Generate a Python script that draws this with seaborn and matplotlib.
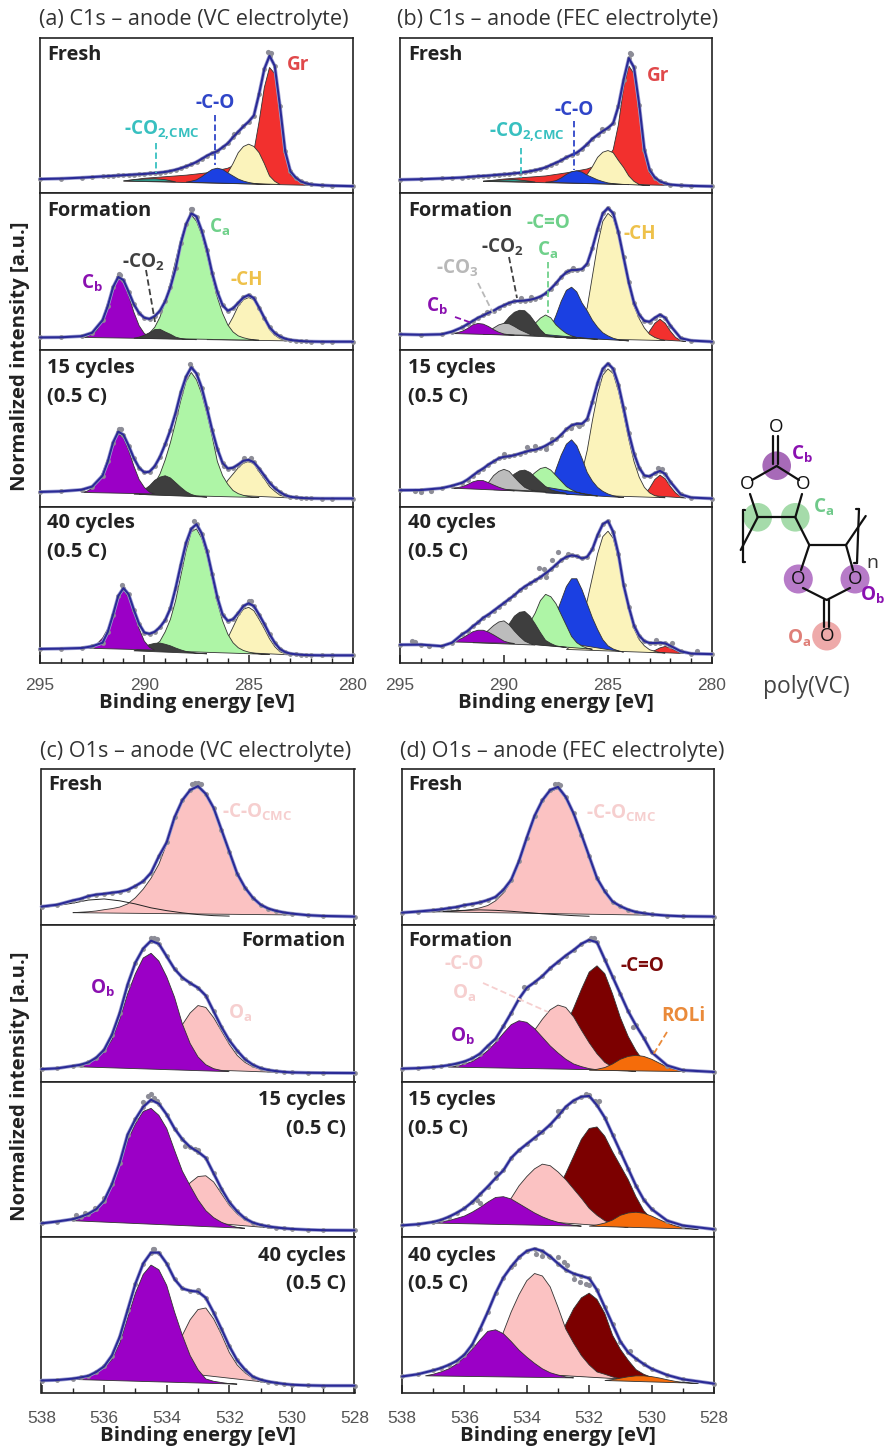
import numpy as np
import matplotlib
matplotlib.use("Agg")
import matplotlib.pyplot as plt
from matplotlib.patches import Circle
from matplotlib.ticker import MultipleLocator
import seaborn as sns

sns.set_theme(style="ticks")
plt.rcParams["font.family"] = ["Open Sans", "DejaVu Sans"]
plt.rcParams["mathtext.default"] = "regular"

# ---------------------------------------------------
# DATA (binding energy in eV, intensity in % of panel height)
# peaks are (first energy, step, values) or (energies, None, values)
# ---------------------------------------------------

X_C = [295, 294, 293, 292.5, 292, 291.75, 291.5, 291.25, 291, 290.75, 290.5, 290.25, 290, 289.75, 289.5, 289.25,
       289, 288.75, 288.5, 288.25, 288, 287.75, 287.5, 287.25, 287, 286.75, 286.5, 286.25, 286, 285.75, 285.5, 285.25,
       285, 284.75, 284.5, 284.25, 284, 283.75, 283.5, 283.25, 283, 282.75, 282.5, 282.25, 282, 281.5, 281, 280]
X_O = [538, 537.5, 537, 536.75, 536.5, 536.25, 536, 535.75, 535.5, 535.25, 535, 534.75, 534.5, 534.25, 534, 533.75,
       533.5, 533.25, 533, 532.75, 532.5, 532.25, 532, 531.75, 531.5, 531.25, 531, 530.75, 530.5, 530.25, 530,
       529.5, 529, 528]
GR_X = [291, 290, 289, 288, 287, 286, 285.5, 285, 284.75, 284.5, 284.25, 284, 283.75, 283.5, 283.25, 283, 282.75,
        282.5, 282, 281.5, 281]

# (a) C1s VC
a0_env = [9, 9.3, 9.9, 10.3, 10.7, 10.9, 11.1, 11.3, 11.5, 11.7, 11.9, 12.1, 12.3, 12.6, 12.9, 13.2, 13.6, 14.2, 15, 16,
          17.2, 18.5, 20, 22, 24, 25.7, 27, 29.5, 32, 36, 39.5, 43, 46, 50, 64, 80, 88.5, 82, 56, 27, 14, 10, 7.5, 6.2,
          5.5, 5, 4.7, 4.4]
a0_raw = ([284.05, 283.95, 285.7], [91, 90.5, 38])
a0_gr = (GR_X, None, [7.7, 9.5, 10.5, 11.5, 13, 16, 19, 20, 27, 46, 68, 81, 77, 54, 26, 12, 9, 7, 5.5, 4.9, 4.6])
a0_ch = (287, 0.25, [7, 7.6, 8.5, 10.5, 13, 19, 26, 30, 31.5, 30, 26, 19, 11, 7.5, 5.5])
a0_co = (288, 0.25, [7, 7.6, 8.5, 10.5, 13, 15.2, 16, 15.2, 13, 11, 9, 7.7, 6.8, 6.2, 5.7, 5.5, 5.5])
a0_cmc = (291, 0.5, [7.8, 8.6, 9, 9.2, 8.6, 7.2])

a1_env = [8, 8.1, 8.8, 11, 19, 28, 40, 46.5, 44.5, 37, 29, 23.5, 20.5, 19.8, 21.5, 25, 31, 40, 52, 68, 80, 87, 85, 76, 64,
          49, 37, 28.5, 25, 26.5, 30, 33.5, 35, 33, 27, 20.5, 14.5, 10.8, 8.6, 7.2, 6.4, 6, 5.7, 5.5, 5.4, 5.3, 5.3, 5.3]
a1_raw = ([287.75, 287.7, 291.2, 291.15], [90, 89.5, 48.5, 48])
a1_ch = (287, 0.25, [6.6, 7, 8, 10.5, 15, 21, 28, 32, 33.4, 32, 26, 19.5, 13, 9.5, 7.2, 6.3, 5.9, 5.8, 5.7])
a1_ca = (290.25, 0.25, [7.6, 8.8, 10.8, 14.5, 21, 31, 43, 57, 71, 81, 86, 82, 73.4, 60.6, 46.4, 33.5, 23.4, 16, 11.5, 9,
                        7.8, 7, 6.5, 6.2])
a1_co2 = (290.5, 0.25, [7.5, 8.2, 9.4, 11, 13, 13.2, 11.5, 10, 8.2, 7.3, 6.8, 6.7, 6.6])
a1_cb = (293, 0.25, [8, 8.6, 10, 13, 20, 30.5, 40.5, 45.5, 43.5, 34.7, 24, 15.5, 10.5, 8.5, 7.3])

a2_env = [9.6, 10, 11, 13, 20, 29, 41, 48, 46, 39, 31, 25, 22, 22.5, 26, 32, 40, 49, 60, 73, 83, 89, 85, 76, 63, 49, 37,
          28, 24.5, 25, 27, 29.5, 30, 28.5, 24.5, 20, 15.5, 12, 9.5, 7.5, 6.5, 6.1, 5.8, 5.6, 5.5, 5.4, 5.4, 5.4]
a2_raw = ([287.8, 291.2, 291.1, 285.2, 284.9, 286.2], [91, 50, 50, 31.5, 31, 26])
a2_ch = (286.5, 0.25, [8, 12, 17, 21, 25, 28, 29, 27.5, 22.5, 18, 13, 10, 7.5, 6.5, 5.8, 5.6])
a2_ca = (290.25, 0.25, [8, 9.3, 11.5, 15, 21, 30, 41, 54, 68, 80, 85.7, 81, 72, 59.5, 45, 29, 20, 14.5, 10.5, 8.5, 7.4,
                        6.7, 6.3, 6])
a2_co2 = (290.5, 0.25, [8.2, 9.3, 11, 13.5, 17, 19, 19.9, 18.5, 15.5, 12.5, 9.8, 8, 7, 6.6, 6.3])
a2_cb = (293, 0.25, [9.3, 10, 12, 15.5, 22, 31, 41, 46.5, 44, 36, 26, 17.5, 12.5, 9.5, 8.3])

a3_env = [9, 9.2, 9.6, 10.7, 13, 20, 31, 43, 48, 44, 34, 25, 19.5, 18.7, 20, 23, 27.5, 35, 48, 63, 77, 86, 89, 83, 72, 57,
          42, 31, 27, 28, 32, 36.5, 38.3, 36.5, 31, 25, 18.5, 13, 9, 7, 6, 5.6, 5.3, 5.1, 5, 4.9, 4.9, 4.9]
a3_raw = ([287.6, 291.05, 285, 284.9], [91, 50, 40, 39.5])
a3_ch = (286.5, 0.25, [7.5, 11, 16, 23, 30, 34.5, 35.7, 33.5, 28, 22, 15.5, 10.5, 7.2, 6, 5.2])
a3_ca = (290, 0.25, [8.2, 9.5, 11.3, 14, 20, 28, 40, 56, 72, 84, 86, 80, 69, 54, 39, 27, 18.5, 13, 9.8, 8, 7, 6.3, 5.9,
                     5.6, 5.5])
a3_co2 = (290.5, 0.25, [7.8, 9, 10.5, 11.8, 12.6, 12.8, 12, 11, 9.6, 8.4, 7.4, 6.8, 6.4, 6.1, 5.9])
a3_cb = (292.75, 0.25, [9.5, 10.5, 12.5, 16, 22, 31, 42, 46.8, 42, 32, 22, 14, 10, 8.3])

# (b) C1s FEC
b0_env = [8.6, 8.9, 9.4, 9.7, 10, 10.3, 10.6, 10.8, 11, 11.2, 11.5, 11.8, 12, 12.3, 12.7, 13, 13.5, 14, 14.7, 15.5, 16.5,
          18, 19.5, 21, 23, 24.5, 26, 28.5, 31.5, 35, 37.5, 40, 42, 45, 56, 73, 87, 81, 57, 28, 15, 10, 7.5, 6.2, 5.4,
          4.9, 4.6, 4.3]
b0_raw = ([283.95, 283.9, 285.3], [90.5, 90, 41.5])
b0_gr = (GR_X, None, [7.5, 9, 10, 11, 13, 15.5, 18, 23, 28, 44, 68, 82, 77, 54, 25, 13, 9, 7, 5.3, 4.8, 4.6])
b0_ch = (287, 0.25, [7, 7.6, 8.5, 10, 12, 17, 23, 26.3, 27.4, 26, 21, 16.5, 11, 7.5, 5.5, 5, 4.9])
b0_co = (288, 0.25, [6.9, 7.3, 8, 9.7, 12, 13.7, 14.3, 13.5, 11.5, 10, 8.5, 7.4, 6.5, 6, 5.7, 5.5, 5.4])
b0_cmc = (291, 0.5, [7.6, 8, 8.4, 8.7, 8, 7.1])

b1_env = [10, 9.7, 10, 11.7, 14.5, 16.5, 18.5, 20.5, 22, 23.7, 25, 27, 28.5, 30, 31, 31.3, 31.5, 32, 32.8, 34, 36, 39,
          42.5, 46.5, 49.5, 51, 51, 51.5, 55, 65, 77, 87, 90.5, 87, 75, 59, 43, 30, 22.5, 18.5, 18, 20.5, 22.5, 20.5,
          15.5, 7.5, 6, 5.3]
b1_raw = ([289.2, 288.7, 286.9, 286.7, 290.8], [33, 33.5, 50.5, 52.5, 24])
b1_gr = (283.25, 0.25, [7, 12, 17, 19.6, 17, 12, 8, 6, 5.5])
b1_ch = (287, 0.25, [7.5, 9, 12, 18, 27, 47, 67, 82, 87, 84, 73, 57, 41, 28, 20, 14, 10, 8, 6.8, 6])
b1_co = (288, 0.25, [9, 14, 22, 31, 38, 40, 37, 30, 25, 19, 14.5, 11, 9, 7.5, 6.6, 6.1, 5.8])
b1_ca = (289, 0.25, [11, 14, 17, 20.3, 22.3, 20.5, 16, 13, 10.5, 9, 8, 7.5, 7.2, 7, 6.8])
b1_co2 = (290.5, 0.25, [10, 13, 17, 21, 24, 25.3, 25, 22, 17.5, 13, 9.8, 8.8, 8.3, 8.1, 8, 7.7, 7.5])
b1_co3 = (291, 0.25, [10, 11.5, 14, 16, 17, 16.7, 15, 13, 11.5, 10, 9.3])
b1_cb = (292.5, 0.25, [10.5, 11, 12, 13.7, 16, 16.9, 16.5, 15, 13, 11.3, 10.2, 9.7, 9.4])

b2_env = [10.7, 10.8, 12, 13.5, 15.5, 17.5, 20, 22.5, 24.5, 27, 29, 31, 32, 32.3, 33, 34, 35, 36, 36.5, 37.5, 39, 41, 43,
          46, 49.5, 52, 53, 53, 56, 67, 79, 88, 91.4, 88, 78, 63, 47, 34, 25, 20, 19.5, 21.5, 23, 21, 16, 8, 6, 5.4]
b2_raw = ([294.3, 294, 293.5, 288.9, 288.5, 288, 287.7, 286.8, 286.4, 282.6, 282.4, 290],
          [10, 9.5, 10.5, 38, 39, 37, 43.5, 50.5, 51.5, 25, 24.5, 34])
b2_gr = (283.25, 0.25, [7.5, 12, 17.5, 20.3, 18, 13, 9, 6.5, 5.7])
b2_ch = (287, 0.25, [8, 10, 14, 22, 36, 55, 72, 84, 88, 85, 74, 59, 43, 29, 19, 12.5, 9, 7.2, 6.4, 5.9])
b2_co = (288, 0.25, [9, 14, 24, 33, 40, 42.8, 39, 31, 22, 16.5, 12.5, 10, 8.3, 7.2, 6.5, 6])
b2_ca = (289, 0.25, [15, 19, 22, 24.5, 25.3, 23.5, 20, 16.5, 13, 11, 9.5, 8.5, 7.8, 7.4, 7])
b2_co2 = (290.5, 0.25, [11, 12.7, 15, 18, 21, 23, 23.5, 22, 19, 16, 13, 11, 10, 9.2, 8.7])
b2_co3 = (291, 0.25, [12, 15.5, 20, 22.7, 24, 22.7, 19, 15.5, 12.5, 11, 10.3, 10, 9.7])
b2_cb = (292.5, 0.25, [12, 12.3, 13, 14.3, 16, 16.9, 16.8, 15.5, 14, 12.6, 11.5, 10.8, 10.3])

b3_env = [11.7, 11.8, 10.8, 13, 18.5, 20.5, 23.5, 26, 29, 31, 33.5, 36, 38.5, 41, 43.5, 46.5, 49, 51, 53, 55, 57.5, 60, 63,
          66, 68, 69, 68.5, 67, 68, 73, 82, 89, 91, 84, 70, 50, 36, 24, 17.5, 14, 12.8, 12.8, 13, 12.6, 11, 7.5, 6, 5.7]
b3_raw = ([294.4, 294.3, 293.6, 287.4, 287.7, 288.1, 288.3, 288, 286.9, 282.7, 281.9, 280.7],
          [14, 13.5, 11, 71, 66, 60, 61, 55, 70, 14.5, 12.5, 7.5])
b3_gr = (283, 0.25, [7, 8, 9.7, 10.6, 9.6, 8, 6.5, 6])
b3_ch = (287, 0.25, [8.7, 11, 16, 27, 40, 55, 70, 81, 84.5, 80, 67, 50, 34, 22, 15, 11, 8.5, 7.5, 6.8, 6.4])
b3_co = (288, 0.25, [15, 20, 31, 40, 49, 54, 54, 47, 38, 29, 21.5, 15, 11, 9, 7.8, 7])
b3_ca = (289.5, 0.25, [13, 17.5, 22, 26, 32, 40, 44, 42.5, 38, 31, 24, 17, 13, 10.8, 9.5, 8.8])
b3_co2 = (290.5, 0.25, [14, 16.5, 20, 25, 30, 32.5, 33, 30, 25, 19.5, 14.5, 12.5, 11, 10.4, 10])
b3_co3 = (291.5, 0.25, [13, 15, 18, 21, 24, 26.3, 27, 24.5, 20.5, 17, 14, 12.5, 11.5])
b3_cb = (292.5, 0.25, [13.5, 14.5, 16, 18, 20, 21, 21, 19.8, 18, 16, 14, 13, 12.5])

# (c) O1s VC
c0_env = [11.8, 13, 15.7, 16.8, 18.5, 19.5, 20, 20.7, 21.3, 22.5, 25, 28, 33.5, 44, 53, 69, 80, 86.5, 89, 84, 75, 61, 47,
          33, 24, 17.5, 13, 10.5, 9, 8, 7.3, 6.3, 5.8, 5.4]
c0_raw = ([533.2, 533.1, 533, 532.9], [90.5, 91, 91, 90.5])
c0_co = (537, 0.25, [7.9, 8.2, 8.5, 9, 9.8, 10.5, 11.5, 13.5, 17.5, 23, 30, 39, 52, 67, 79, 86, 88.5, 84, 74, 60, 46, 33,
                     23.5, 17, 12.5, 10, 8.5, 7.6, 7, 6.4])
c0_other = (538, 0.5, [11, 12.5, 14, 16, 16.7, 15.5, 13.5, 11, 9.2, 7.8, 6.7, 6, 5.7])

c1_env = [8.2, 8.7, 10.2, 11, 12.5, 15.5, 20.5, 30, 44, 62, 76, 85, 90, 88, 80, 72, 66.5, 63, 60, 55, 45, 35, 26.5, 20,
          14.5, 11, 8.8, 7.6, 6.9, 6.4, 6.1, 5.9, 5.8, 5.7]
c1_raw = ([534.5, 534.4, 534.3], [91.5, 91.5, 91])
c1_oa = (534.5, 0.25, [9, 13, 20, 28, 36.5, 44, 48.7, 47.5, 41, 32.5, 24, 17, 12.5, 9.7, 8, 7, 6.4, 6])
c1_ob = (537, 0.25, [9.8, 11, 12.5, 15, 19, 27, 40, 56, 69, 79, 82, 77, 67, 54, 37, 24.5, 16, 11, 8.5, 7.3, 6.6])

c2_env = [8.8, 10, 11.5, 13, 15, 18, 23.5, 34, 48, 66, 76, 84, 88.5, 86, 79, 70, 63, 58, 55, 51, 41, 31, 22.5, 16.5, 12,
          9.3, 7.8, 6.8, 6.1, 5.6, 5.2, 4.7, 4.4, 4.3]
c2_raw = ([534.75, 534.6, 534.5, 534.4, 534.3, 533.4, 533.1, 533, 536.9, 536.6, 536.3, 536],
          [87, 91, 92, 90, 88, 59, 57, 56, 14, 15.5, 19, 25])
c2_oa = (534.25, 0.25, [12, 15.5, 22, 29, 35, 39, 39.5, 35.5, 28, 20.5, 15, 11, 8.5, 7, 6, 5.5])
c2_ob = (537, 0.25, [10.5, 12, 14, 17.5, 23, 33, 46.5, 62, 73, 81, 83, 78.5, 70, 56, 42.5, 33, 24, 17, 12.5, 9.5, 7.5,
                     6.2, 5.6])

c3_env = [8, 8.3, 9.2, 10, 11, 13.5, 17, 24, 36, 53, 70, 83, 90, 90, 83, 73, 67, 65.5, 65, 61, 51.5, 41, 30, 21, 15, 10.5,
          8.5, 7.3, 6.5, 5.8, 5.3, 4.9, 4.7, 4.7]
c3_raw = ([534.45, 534.4, 533], [92, 92, 66])
c3_oa = (534, 0.25, [14, 26, 37, 47, 53.5, 54.5, 47.5, 37.5, 26, 18, 13, 9.5, 7.7, 6.5, 5.8, 5.3, 5])
c3_ob = (537, 0.25, [8.7, 9.5, 10.7, 12.7, 16, 21.5, 32, 48, 64, 76, 82, 79, 69, 52, 37, 24, 15, 9, 7.5, 6.7, 6, 5.7])

# (d) O1s FEC
d0_env = [7.9, 8.6, 9.5, 10, 10.8, 11.5, 12.7, 13.5, 14.5, 16, 18, 22.5, 29, 41, 56, 70, 80, 86.5, 88.5, 82, 71.5, 58, 44,
          30, 21.5, 15, 12, 9.8, 8.3, 7.5, 6.8, 6, 5.6, 5.4]
d0_raw = ([533.1, 533, 532.95], [90.5, 90.5, 90])
d0_co = (537, 0.25, [8.5, 8.6, 8.8, 9, 9.3, 10, 11, 12.5, 15.5, 20.5, 28, 40, 55, 69, 79, 85.5, 87.5, 81, 71, 57, 43, 29.5,
                     21, 14.5, 11.5, 9.3, 8, 7.2, 6.6, 6.2])
d0_other = (538, 0.5, [7.7, 8, 8.5, 9, 9.4, 9.7, 9.4, 8.8, 8, 7.2, 6.6, 6, 5.6])

d1_env = [8.5, 8.8, 9.5, 10, 10.7, 11.7, 13, 15, 18, 23, 27.5, 35.5, 44, 53, 60, 63.5, 67.5, 72.5, 76.5, 80.5, 84, 88,
          90.5, 89, 78, 67, 56, 45, 36, 28, 19, 10.5, 7.5, 6.4]
d1_raw = ([531.95, 531.85, 534.1, 530.6], [91.5, 91.5, 60.5, 35])
d1_cdo = (533.5, 0.25, [12, 17, 25, 36, 47, 59, 70, 74, 69, 56, 41, 29, 20, 13, 10, 8.5, 7.6])
d1_oa = (534.5, 0.25, [10, 15, 25, 33, 40, 46, 49, 47.5, 41.5, 33, 25, 18, 12.5, 9.5, 8, 7.2, 6.8])
d1_ob = (536.5, 0.25, [9.5, 10, 11.3, 13, 16, 20, 25, 31, 36.5, 39, 38, 34, 28.5, 23, 18.5, 14.5, 11.5, 9.8, 8.5, 7.8])
d1_roli = (532, 0.25, [7.5, 8.1, 9.2, 11.5, 14.5, 16.3, 17, 16.3, 14.5, 12, 9.5, 8, 7, 6.7, 6.5])

d2_env = [7.5, 8.2, 9.7, 11, 13, 15.5, 18.5, 22.5, 27.5, 32.5, 38, 43, 51, 56, 60, 64, 68, 72.5, 78, 84, 88, 90.5, 91, 85,
          77, 66, 55, 44, 33, 24, 18, 10.5, 7.4, 5]
d2_raw = ([532.1, 532, 531.8, 531.7, 533, 532.9, 535.6, 535.5, 535, 533.6],
          [92, 91.5, 88, 88, 81, 81, 24, 22, 41, 68])
d2_cdo = (533.5, 0.25, [10, 20, 31, 41, 52, 63, 70, 71, 65, 55, 46, 37, 26, 17, 11.5, 8.5, 7])
d2_oa = (535, 0.25, [12, 18, 25, 33, 39, 44, 47, 46, 42, 37, 31, 25, 18.5, 14, 10.5, 8.5, 7, 6.2])
d2_ob = (537, 0.25, [9, 9.8, 10.6, 12, 13.5, 16, 19, 22.5, 25.5, 26, 24.5, 21.5, 18.5, 15.5, 13, 11, 9.5, 8.4, 7.6, 7])
d2_roli = (532, 0.25, [7, 7.8, 9, 11, 14, 15.5, 16, 15.3, 13.5, 11.2, 9, 7.3, 6, 5.4, 5])

d3_env = [10.6, 12, 14.5, 16, 18, 20.5, 24.5, 31, 41, 52, 64, 74, 81, 87, 91, 92.5, 91, 87.5, 83, 79, 76.5, 75, 73.5, 66,
          55, 44, 33, 26, 22, 18.5, 15.5, 11.5, 8.8, 6]
d3_raw = ([533.7, 533.5, 533.3, 533, 532.8, 532.7, 532.5, 532.3, 532.1, 532, 534.4, 530.7],
          [89, 88, 88, 87, 84, 82, 73, 71, 70, 69, 83, 27])
d3_cdo = (533.5, 0.25, [12, 22, 34, 44, 54, 61, 64, 60, 51, 37, 28, 21, 15, 12, 10, 8.5, 7.8])
d3_oa = (535.25, 0.25, [14, 26, 39, 52, 63, 72, 76.6, 75, 68, 55, 41, 32, 24, 18, 13.5, 12, 10.3, 9])
d3_ob = (537.25, 0.25, [11, 12, 13.5, 15.5, 18.5, 23, 28, 34, 39.5, 40.5, 38, 33, 27.5, 23, 19, 15.5, 13, 11.5, 10.3, 9.7])
d3_roli = (531.5, 0.25, [8, 8.6, 9.5, 10.4, 11, 11, 10.5, 9.6, 8.5, 7.5, 6.8, 6.4, 6.2])

# ---------------------------------------------------
# COLOURS
# ---------------------------------------------------

RED = "#f2302e"
CREAM = "#fbf3bb"
BLUE = "#1b40e2"
GREEN = "#aef5a6"
DARK = "#3e3e3e"
GREY = "#bcbcbc"
PURPLE = "#9b00c6"
PINK = "#fbc2c2"
MAROON = "#7c0000"
ORANGE = "#f56c0a"
TEAL = "#2d9f8f"

# peaks are listed back to front, None means outline only
columns = [
    (40, 353, [38, 193, 350, 507, 663], X_C, (295, 280), 5, 10.5, [
        (a0_env, a0_raw, [(a0_gr, RED), (a0_ch, CREAM), (a0_cmc, TEAL), (a0_co, BLUE)]),
        (a1_env, a1_raw, [(a1_ch, CREAM), (a1_ca, GREEN), (a1_cb, PURPLE), (a1_co2, DARK)]),
        (a2_env, a2_raw, [(a2_ch, CREAM), (a2_ca, GREEN), (a2_co2, DARK), (a2_cb, PURPLE)]),
        (a3_env, a3_raw, [(a3_ch, CREAM), (a3_ca, GREEN), (a3_co2, DARK), (a3_cb, PURPLE)]),
    ]),
    (400, 712, [38, 193, 350, 507, 663], X_C, (295, 280), 5, 10.5, [
        (b0_env, b0_raw, [(b0_gr, RED), (b0_ch, CREAM), (b0_cmc, TEAL), (b0_co, BLUE)]),
        (b1_env, b1_raw, [(b1_gr, RED), (b1_ch, CREAM), (b1_co, BLUE), (b1_ca, GREEN), (b1_co2, DARK), (b1_co3, GREY), (b1_cb, PURPLE)]),
        (b2_env, b2_raw, [(b2_gr, RED), (b2_ch, CREAM), (b2_co, BLUE), (b2_ca, GREEN), (b2_co2, DARK), (b2_co3, GREY), (b2_cb, PURPLE)]),
        (b3_env, b3_raw, [(b3_gr, RED), (b3_ch, CREAM), (b3_co, BLUE), (b3_ca, GREEN), (b3_co2, DARK), (b3_co3, GREY), (b3_cb, PURPLE)]),
    ]),
    (41.5, 354.5, [769, 925, 1082, 1237, 1393], X_O, (538, 528), 2, 13, [
        (c0_env, c0_raw, [(c0_co, PINK), (c0_other, None)]),
        (c1_env, c1_raw, [(c1_oa, PINK), (c1_ob, PURPLE)]),
        (c2_env, c2_raw, [(c2_oa, PINK), (c2_ob, PURPLE)]),
        (c3_env, c3_raw, [(c3_oa, PINK), (c3_ob, PURPLE)]),
    ]),
    (402, 714, [769, 925, 1082, 1237, 1393], X_O, (538, 528), 2, 13, [
        (d0_env, d0_raw, [(d0_co, PINK), (d0_other, None)]),
        (d1_env, d1_raw, [(d1_cdo, MAROON), (d1_oa, PINK), (d1_ob, PURPLE), (d1_roli, ORANGE)]),
        (d2_env, d2_raw, [(d2_cdo, MAROON), (d2_oa, PINK), (d2_ob, PURPLE), (d2_roli, ORANGE)]),
        (d3_env, d3_raw, [(d3_cdo, MAROON), (d3_oa, PINK), (d3_ob, PURPLE), (d3_roli, ORANGE)]),
    ]),
]

W, H = 887, 1449


def peak_xy(peak):
    start, step, ys = peak
    if step is None:
        return start, ys
    return start - step * np.arange(len(ys)), ys


# ---------------------------------------------------
# SPECTRA
# ---------------------------------------------------

fig = plt.figure(figsize=(W / 100, H / 100), dpi=100, facecolor="white")

for left, right, rows, x_grid, xlim, major, pad, panels in columns:
    for i, (env, raw, peaks) in enumerate(panels):
        top, bottom = rows[i], rows[i + 1]
        ax = fig.add_axes([left / W, 1 - bottom / H, (right - left) / W, (bottom - top) / H])

        for peak, color in peaks:
            xs, ys = peak_xy(peak)
            if color is None:
                ax.plot(xs, ys, color="#222222", lw=0.7, zorder=3)
            else:
                ax.fill(xs, ys, facecolor=color, edgecolor="#333333", lw=0.6, zorder=2)

        sns.lineplot(x=x_grid, y=env, ax=ax, color="#9da0d2", lw=2.6, sort=False, zorder=4, clip_on=False)
        sns.scatterplot(x=x_grid, y=env, ax=ax, color="#8d8d97", s=12, linewidth=0, zorder=4, clip_on=False)
        sns.scatterplot(x=raw[0], y=raw[1], ax=ax, color="#8d8d97", s=14, linewidth=0, zorder=4, clip_on=False)
        sns.lineplot(x=x_grid, y=env, ax=ax, color="#2a2a96", lw=1.5, sort=False, zorder=5, clip_on=False)

        ax.set_xlim(*xlim)
        ax.set_ylim(0, 100)
        ax.set_yticks([])
        ax.set_ylabel("")
        for spine in ax.spines.values():
            spine.set_visible(True)
            spine.set_color("#222222")
            spine.set_linewidth(1.2)

        if i == 3:
            ax.xaxis.set_major_locator(MultipleLocator(major))
            ax.xaxis.set_minor_locator(MultipleLocator(1))
            ax.tick_params(axis="x", which="major", direction="in", length=6, width=1.1, color="#222222",
                           pad=pad, labelsize=12.5, labelcolor="#555555")
            ax.tick_params(axis="x", which="minor", direction="in", length=3.5, width=1, color="#222222")
            for lab in ax.get_xticklabels():
                lab.set_fontfamily("Liberation Sans")
            ax.set_xlabel("Binding energy [eV]", fontsize=14.6, fontweight="bold", color="#222222", labelpad=0)
        else:
            ax.set_xticks([])
            ax.set_xlabel("")

# ---------------------------------------------------
# OVERLAY: TITLES, LABELS, STRUCTURE (pixel coordinates)
# ---------------------------------------------------

ov = fig.add_axes([0, 0, 1, 1], zorder=10)
ov.set_xlim(0, W)
ov.set_ylim(H, 0)
ov.axis("off")


def txt(x, y, s, color="#222222", size=14.4, weight="bold", ha="center", **kw):
    ov.text(x, y, s, color=color, fontsize=size, fontweight=weight, ha=ha, va="center", **kw)


def note(x, y, s, color):
    txt(x, y, s, color, 13.6)


def dash(x0, y0, x1, y1, color):
    ov.plot([x0, x1], [y0, y1], color=color, lw=1.3, ls=(0, (3.5, 1.8)))


for x, y, s in [(39, 20, "(a) C1s – anode (VC electrolyte)"), (397, 20, "(b) C1s – anode (FEC electrolyte)"),
                (40, 751, "(c) O1s – anode (VC electrolyte)"), (400, 751, "(d) O1s – anode (FEC electrolyte)")]:
    txt(x, y, s, color="#333333", size=15.6, weight="normal", ha="left")

txt(20, 356, "Normalized intensity [a.u.]", size=14.6, rotation=90)
txt(20, 1086, "Normalized intensity [a.u.]", size=14.6, rotation=90)

for x in (47, 408):
    txt(x, 55, "Fresh", ha="left")
    txt(x, 211, "Formation", ha="left")
    txt(x, 368, "15 cycles", ha="left")
    txt(x, 397, "(0.5 C)", ha="left")
    txt(x, 523, "40 cycles", ha="left")
    txt(x, 552, "(0.5 C)", ha="left")

txt(48, 785, "Fresh", ha="left")
txt(346, 941, "Formation", ha="right")
txt(346, 1100, "15 cycles", ha="right")
txt(346, 1129, "(0.5 C)", ha="right")
txt(346, 1256, "40 cycles", ha="right")
txt(346, 1284, "(0.5 C)", ha="right")
txt(408, 785, "Fresh", ha="left")
txt(408, 941, "Formation", ha="left")
txt(408, 1100, "15 cycles", ha="left")
txt(408, 1129, "(0.5 C)", ha="left")
txt(408, 1256, "40 cycles", ha="left")
txt(408, 1284, "(0.5 C)", ha="left")

C_RED, C_BLUE, C_TEAL = "#e0484a", "#2f45c8", "#38c0c0"
C_DARK, C_GREEN, C_YEL, C_PUR = "#404040", "#6fd08a", "#eec14a", "#8a10b0"
C_PINK, C_GREY, C_MAR, C_OR = "#f6cfcf", "#b8b8b8", "#7c0a0a", "#ea8a3a"

# (a)
note(298, 65, "Gr", C_RED)
note(215, 103, "-C-O", C_BLUE)
dash(215, 115, 215, 165, C_BLUE)
note(162, 130, "-CO$_{2{,}CMC}$", C_TEAL)
dash(156, 143, 156, 173, C_TEAL)
note(92, 283, "C$_b$", C_PUR)
note(143, 262, "-CO$_2$", C_DARK)
dash(146, 270, 155, 322, C_DARK)
note(220, 227, "C$_a$", C_GREEN)
note(247, 280, "-CH", C_YEL)
# (b)
note(658, 76, "Gr", C_RED)
note(574, 110, "-C-O", C_BLUE)
dash(574, 121, 574, 170, C_BLUE)
note(527, 132, "-CO$_{2{,}CMC}$", C_TEAL)
dash(521, 148, 521, 178, C_TEAL)
note(548, 223, "-C=O", C_GREEN)
note(502, 247, "-CO$_2$", C_DARK)
dash(509, 257, 517, 298, C_DARK)
note(548, 250, "C$_a$", C_GREEN)
dash(548, 262, 548, 313, C_GREEN)
note(457, 268, "-CO$_3$", C_GREY)
dash(478, 283, 493, 313, C_GREY)
note(437, 306, "C$_b$", C_PUR)
dash(455, 317, 472, 323, C_PUR)
note(640, 234, "-CH", C_YEL)
# (c)
note(257, 812, "-C-O$_{CMC}$", C_PINK)
note(102, 988, "O$_b$", C_PUR)
note(240, 1013, "O$_a$", C_PINK)
# (d)
note(621, 813, "-C-O$_{CMC}$", C_PINK)
note(464, 964, "-C-O", C_PINK)
note(464, 993, "O$_a$", C_PINK)
dash(483, 983, 548, 1012, C_PINK)
note(462, 1036, "O$_b$", C_PUR)
note(642, 966, "-C=O", C_MAR)
note(683, 1016, "ROLi", C_OR)
dash(667, 1032, 653, 1055, C_OR)

# poly(VC) structure
for cx, cy, r, col in [(776.7, 465.7, 14.3, "#a76ab8"), (757.7, 517.3, 14.3, "#a5dbaa"), (795.3, 517.3, 14.3, "#a5dbaa"),
                       (798.3, 579, 14.5, "#b77bc8"), (855, 579, 14.5, "#b77bc8"), (826.7, 636, 14.5, "#eeaaaa")]:
    ov.add_patch(Circle((cx, cy), r, facecolor=col, edgecolor="none", zorder=1))

bonds = [((773.5, 436), (773.5, 464)), ((778.5, 436), (778.5, 464)),
         ((776.7, 466), (752, 480)), ((776.7, 466), (799, 480)),
         ((750, 494), (757.7, 517.3)), ((802, 494), (795.3, 517.3)),
         ((757.7, 517.3), (795.3, 517.3)), ((795.3, 517.3), (809.3, 545)),
         ((809.3, 545), (846, 545)), ((809.3, 545), (801, 570)), ((846, 545), (853, 570)),
         ((803, 588), (826.7, 600)), ((850, 588), (826.7, 600)),
         ((824, 600), (824, 627)), ((829, 600), (829, 627)),
         ((757.7, 517.3), (740.7, 550)), ((846, 545), (865.7, 516)),
         ((745, 510), (743, 510)), ((743, 510), (743, 562)), ((743, 562), (745, 562)),
         ((856, 509), (859, 509)), ((859, 509), (857, 563)), ((857, 563), (854, 563))]
for p, q in bonds:
    ov.plot([p[0], q[0]], [p[1], q[1]], color="#111111", lw=1.6, solid_capstyle="round", zorder=2)

for x, y in [(775.7, 427), (746.7, 484.3), (803.3, 484.3), (798.3, 579), (855, 579), (826.7, 636)]:
    txt(x, y, "O", "#111111", 13.5, "normal", zorder=3)

txt(872, 563, "n", "#333333", 14, "normal")
txt(802, 454, "C$_b$", C_PUR, 13.6)
txt(824, 507, "C$_a$", "#6fc98a", 13.6)
txt(872, 595, "O$_b$", C_PUR, 13.6)
txt(799, 638, "O$_a$", "#df7f78", 13.6)
txt(806, 687, "poly(VC)", "#444444", 16.5, "normal")

fig.savefig("out.png", dpi=100, facecolor="white")
